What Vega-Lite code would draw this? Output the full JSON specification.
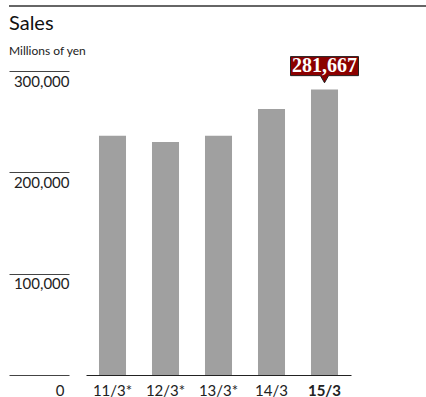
{
  "$schema": "https://vega.github.io/schema/vega-lite/v6.json",
  "width": 417,
  "height": 369,
  "autosize": "none",
  "padding": {"left": 9, "top": 6, "right": 0, "bottom": 22},
  "background": "white",
  "title": {
    "text": "Sales",
    "subtitle": "Millions of yen",
    "anchor": "start",
    "frame": "group",
    "offset": -52,
    "font": "Lato",
    "fontSize": 20,
    "fontWeight": "normal",
    "color": "#111",
    "subtitleFont": "Lato",
    "subtitleFontSize": 12,
    "subtitleColor": "#222",
    "subtitlePadding": 12
  },
  "data": {
    "values": [
      {"period": "11/3*", "sales": 236000},
      {"period": "12/3*", "sales": 230000},
      {"period": "13/3*", "sales": 236000},
      {"period": "14/3", "sales": 262500},
      {"period": "15/3", "sales": 281667}
    ]
  },
  "encoding": {
    "x": {
      "field": "period",
      "type": "nominal",
      "sort": null,
      "scale": {"range": [77, 342], "paddingInner": 0.49, "paddingOuter": 0.245},
      "axis": {
        "title": null,
        "labelAngle": 0,
        "ticks": false,
        "domainColor": "#222",
        "domainWidth": 1,
        "labelFont": "Lato",
        "labelFontSize": 15,
        "labelColor": "#222",
        "labelPadding": 8,
        "labelFontWeight": {"condition": {"test": "datum.value === '15/3'", "value": "bold"}, "value": "normal"}
      }
    },
    "y": {
      "field": "sales",
      "type": "quantitative",
      "scale": {"domain": [0, 364145], "nice": false},
      "axis": {
        "title": null,
        "domain": false,
        "grid": false,
        "values": [0, 100000, 200000, 300000],
        "labelExpr": "format(datum.value, ',')",
        "tickSize": -60,
        "tickColor": "#444",
        "tickWidth": 1,
        "labelAlign": "right",
        "labelBaseline": "top",
        "labelFont": "Lato",
        "labelFontSize": 15,
        "labelColor": "#222",
        "labelPadding": {"condition": {"test": "datum.value === 0", "value": 5}, "value": 0},
        "labelOffset": {"condition": {"test": "datum.value === 0", "value": 8}, "value": 3}
      }
    }
  },
  "layer": [
    {
      "mark": {"type": "rule", "color": "#666", "strokeWidth": 2},
      "encoding": {"x": {"value": 0}, "x2": {"value": 417}, "y": {"datum": 364145}}
    },
    {
      "mark": {"type": "bar", "color": "#a0a0a0"}
    },
    {
      "transform": [{"filter": "datum.period === '15/3'"}],
      "mark": {
        "type": "point",
        "shape": "M-1,-0.97 L1,-0.97 L1,-0.41 L0.12,-0.41 L0,-0.2 L-0.12,-0.41 L-1,-0.41 Z",
        "size": 4624,
        "filled": true,
        "fill": "#8b0000",
        "stroke": "#222",
        "strokeWidth": 1,
        "opacity": 1
      }
    },
    {
      "transform": [{"filter": "datum.period === '15/3'"}],
      "mark": {
        "type": "text",
        "dy": -23.5,
        "baseline": "middle",
        "align": "center",
        "font": "Liberation Serif",
        "fontWeight": "bold",
        "fontSize": 20,
        "color": "white"
      },
      "encoding": {"text": {"field": "sales", "type": "quantitative", "format": ","}}
    }
  ],
  "config": {"view": {"stroke": null}}
}
